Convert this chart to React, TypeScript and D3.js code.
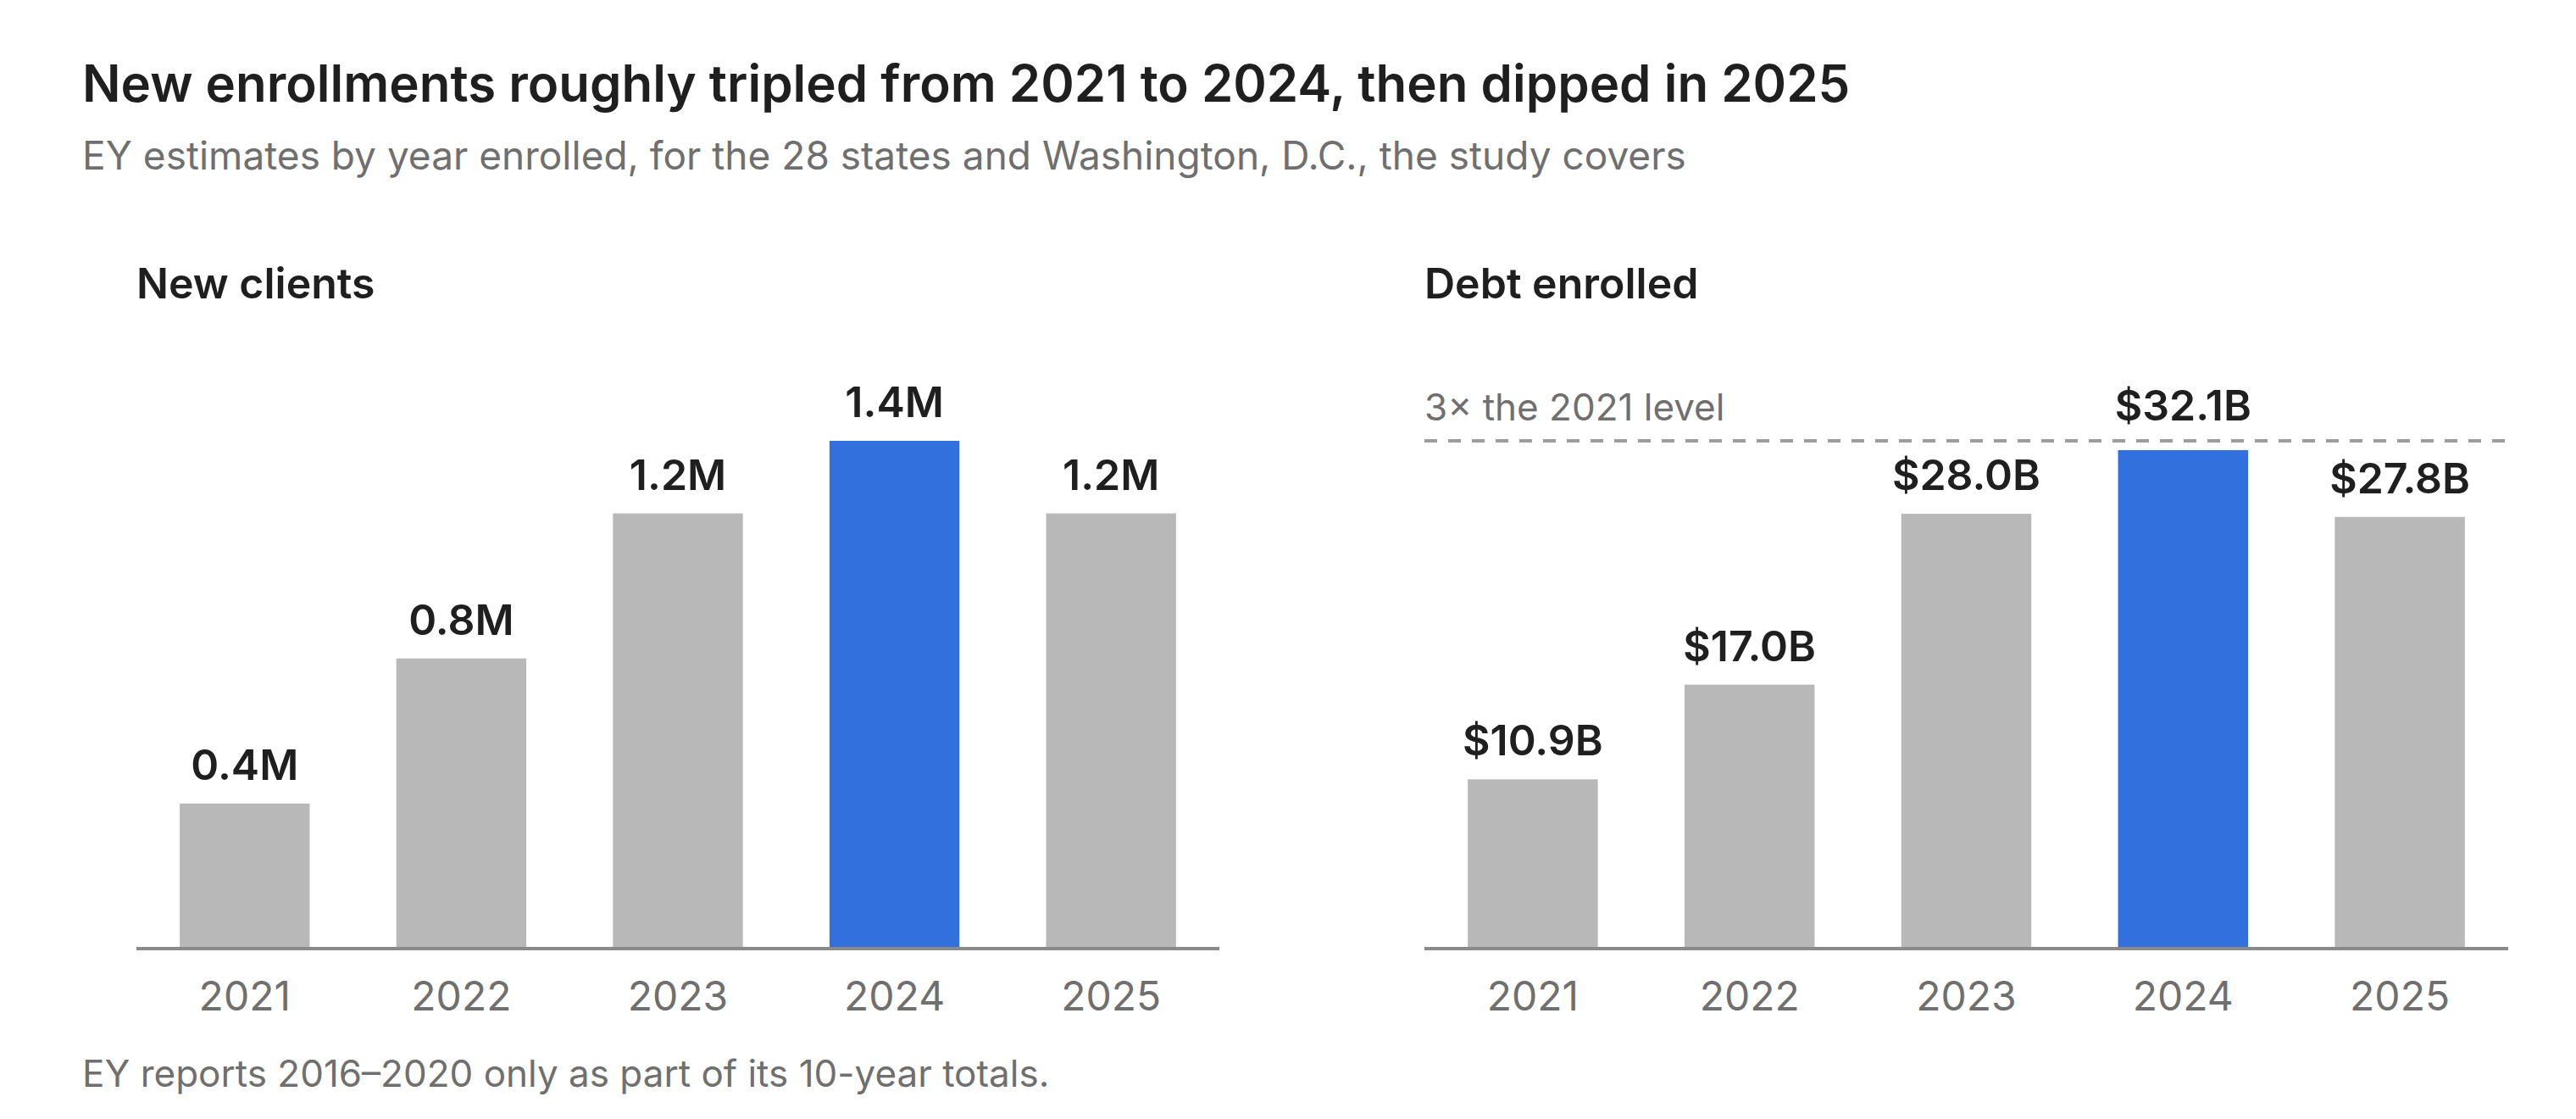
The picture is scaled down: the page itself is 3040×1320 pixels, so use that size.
import React from "react";
import * as d3 from "d3";

const years = ["2021", "2022", "2023", "2024", "2025"];
const newClients = [0.4, 0.8, 1.2, 1.4, 1.2];
const debtEnrolled = [10.9, 17.0, 28.0, 32.1, 27.8];
const highlightYear = "2024";
const baseYearDebt = 10.9;

const width = 3040;
const height = 1320;
const baseline = 1119;
const plotTop = 520;
const font = "Inter, 'Noto Sans', sans-serif";

const GRAY = "#b8b8b8";
const BLUE = "#3170dd";
const INK = "#1f1f1f";
const MUTED = "#6f6f6f";

type PanelProps = {
  x0: number;
  x1: number;
  title: string;
  values: number[];
  fmt: (v: number) => string;
  refValue?: number;
  refLabel?: string;
};

function Panel({ x0, x1, title, values, fmt, refValue, refLabel }: PanelProps) {
  const xScale = d3.scaleBand<string>().domain(years).range([x0, x1]).paddingInner(0.4).paddingOuter(0.2);
  const top = Math.max(d3.max(values) ?? 0, refValue ?? 0);
  const yScale = d3.scaleLinear().domain([0, top]).range([baseline, plotTop]);
  const refY = refValue != null ? yScale(refValue) : null;

  return (
    <g>
      <text x={x0} y={352} fontSize={50} fontWeight={600} fill={INK}>
        {title}
      </text>

      {refY != null && (
        <g>
          <line x1={x0} x2={x1} y1={refY} y2={refY} stroke="#9e9e9e" strokeWidth={4} strokeDasharray="15 13" />
          <text x={x0} y={refY - 24} fontSize={44} fill={MUTED}>
            {refLabel}
          </text>
        </g>
      )}

      {years.map((yr, i) => {
        const v = values[i];
        const barTop = yScale(v);
        let labelY = barTop - 28;
        // keep labels clear of the dashed reference line
        if (refY != null && labelY > refY - 24 && barTop - refY < 60) labelY = refY - 24;
        const cx = (xScale(yr) ?? 0) + xScale.bandwidth() / 2;
        return (
          <g key={yr}>
            <rect
              x={xScale(yr)}
              y={barTop}
              width={xScale.bandwidth()}
              height={baseline - barTop}
              fill={yr === highlightYear ? BLUE : GRAY}
            />
            <text x={cx} y={labelY} textAnchor="middle" fontSize={50} fontWeight={600} fill={INK}>
              {fmt(v)}
            </text>
            <text x={cx} y={1192} textAnchor="middle" fontSize={48} fill={MUTED}>
              {yr}
            </text>
          </g>
        );
      })}

      <line x1={x0} x2={x1} y1={baseline} y2={baseline} stroke="#8a8a8a" strokeWidth={4} />
    </g>
  );
}

export default function App() {
  return (
    <svg
      width={width}
      height={height}
      style={{ position: "absolute", left: 0, top: 0, background: "#fff" }}
      fontFamily={font}
    >
      <text x={97} y={120} fontSize={60} fontWeight={600} fill={INK}>
        New enrollments roughly tripled from 2021 to 2024, then dipped in 2025
      </text>
      <text x={97} y={200} fontSize={46} fill={MUTED}>
        EY estimates by year enrolled, for the 28 states and Washington, D.C., the study covers
      </text>

      <Panel x0={161} x1={1439} title="New clients" values={newClients} fmt={(v) => `${v.toFixed(1)}M`} />
      <Panel
        x0={1681}
        x1={2960}
        title="Debt enrolled"
        values={debtEnrolled}
        fmt={(v) => `$${v.toFixed(1)}B`}
        refValue={baseYearDebt * 3}
        refLabel="3× the 2021 level"
      />

      <text x={97} y={1282} fontSize={44} fill={MUTED}>
        EY reports 2016–2020 only as part of its 10-year totals.
      </text>
    </svg>
  );
}
